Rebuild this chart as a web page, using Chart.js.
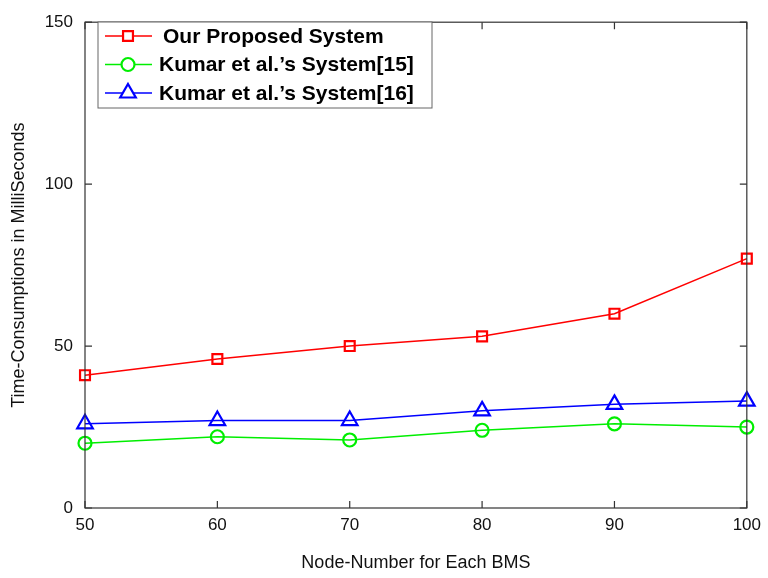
<!DOCTYPE html>
<html lang="en">
<head>
  <meta charset="UTF-8" />
  <title>Time Consumption per BMS</title>
  <script src="https://cdn.jsdelivr.net/npm/chart.js"></script>
  <style>
    html, body { margin: 0; padding: 0; background: #fff; }
    #wrap { width: 768px; height: 578px; }
  </style>
</head>
<body>
  <div id="wrap"><canvas id="timeChart" width="768" height="578"></canvas></div>

  <script>
    const nodeNumbers = [50, 60, 70, 80, 90, 100];
    const proposedTimes = [41, 46, 50, 53, 60, 77];
    const kumar15Times = [20, 22, 21, 24, 26, 25];
    const kumar16Times = [26, 27, 27, 30, 32, 33];
    const yTicks = [0, 50, 100, 150];
    const seriesNames = ['Our Proposed System', "Kumar et al.\u2019s System[15]", "Kumar et al.\u2019s System[16]"];

    const toPoints = vals => vals.map((v, i) => ({ x: nodeNumbers[i], y: v }));

    // box around plot + inward tick marks (matlab look)
    const frame = {
      id: 'frame',
      afterDraw(chart) {
        const { ctx, chartArea: a, scales } = chart;
        ctx.save();
        ctx.strokeStyle = '#333';
        ctx.lineWidth = 1.2;
        ctx.strokeRect(a.left, a.top, a.right - a.left, a.bottom - a.top);
        ctx.beginPath();
        nodeNumbers.forEach(n => {
          const x = scales.x.getPixelForValue(n);
          ctx.moveTo(x, a.bottom); ctx.lineTo(x, a.bottom - 7);
          ctx.moveTo(x, a.top); ctx.lineTo(x, a.top + 7);
        });
        yTicks.forEach(t => {
          const y = scales.y.getPixelForValue(t);
          ctx.moveTo(a.left, y); ctx.lineTo(a.left + 7, y);
          ctx.moveTo(a.right, y); ctx.lineTo(a.right - 7, y);
        });
        ctx.stroke();

        // legend box
        const lx = 98, ly = 22, lw = 334, lh = 86;
        ctx.fillStyle = '#fff';
        ctx.fillRect(lx, ly, lw, lh);
        ctx.strokeStyle = '#666';
        ctx.lineWidth = 1;
        ctx.strokeRect(lx, ly, lw, lh);
        chart.data.datasets.forEach((ds, i) => {
          const y = ly + 14 + i * 28.5;
          ctx.strokeStyle = ds.borderColor;
          ctx.lineWidth = 1.3;
          ctx.beginPath();
          ctx.moveTo(lx + 7, y); ctx.lineTo(lx + 54, y);
          ctx.stroke();
          ctx.lineWidth = 2.2;
          ctx.fillStyle = '#fff';
          Chart.helpers.drawPoint(ctx, {
            pointStyle: ds.pointStyle, radius: ds.pointRadius, borderWidth: 2.2
          }, lx + 30, y);
          ctx.fillStyle = '#000';
          ctx.font = 'bold 21px "Liberation Sans", Arial, sans-serif';
          ctx.textBaseline = 'middle';
          ctx.fillText(ds.label, lx + (i === 0 ? 65 : 61), y + 1);
        });
        ctx.restore();
      }
    };

    const mk = (label, vals, color, style, r) => ({
      label: label,
      data: toPoints(vals),
      borderColor: color,
      backgroundColor: 'rgba(0,0,0,0)',
      borderWidth: 1.5,
      pointStyle: style,
      pointRadius: r,
      pointBorderWidth: 2.2,
      pointBackgroundColor: 'rgba(0,0,0,0)',
      tension: 0
    });

    const ctx = document.getElementById('timeChart').getContext('2d');
    new Chart(ctx, {
      type: 'line',
      data: {
        datasets: [
          mk(seriesNames[0], proposedTimes, '#ff0000', 'rect', 7),
          mk(seriesNames[1], kumar15Times, '#00ee00', 'circle', 6.5),
          mk(seriesNames[2], kumar16Times, '#0000ff', 'triangle', 9)
        ]
      },
      options: {
        responsive: false,
        animation: false,
        clip: false,
        layout: { padding: { top: 18, right: 20, left: 0, bottom: 0 } },
        plugins: { legend: { display: false }, tooltip: { enabled: false } },
        scales: {
          x: {
            type: 'linear',
            min: 50, max: 100,
            afterBuildTicks: s => { s.ticks = nodeNumbers.map(v => ({ value: v })); },
            afterFit: s => { s.height = 70; },
            grid: { display: false, drawTicks: false },
            border: { display: false },
            ticks: { color: '#111', padding: 7, font: { size: 17, family: '"Liberation Sans", Arial, sans-serif' } },
            title: { display: true, text: 'Node-Number for Each BMS', color: '#111', padding: { top: 12 },
                     font: { size: 18, family: '"Liberation Sans", Arial, sans-serif' } }
          },
          y: {
            min: 0, max: 150,
            afterBuildTicks: s => { s.ticks = yTicks.map(v => ({ value: v })); },
            afterFit: s => { s.width = 85; },
            grid: { display: false, drawTicks: false },
            border: { display: false },
            ticks: { color: '#111', padding: 12, font: { size: 17, family: '"Liberation Sans", Arial, sans-serif' } },
            title: { display: true, text: 'Time-Consumptions in MilliSeconds', color: '#111', padding: { bottom: 0, top: 8 },
                     font: { size: 18, family: '"Liberation Sans", Arial, sans-serif' } }
          }
        }
      },
      plugins: [frame]
    });
  </script>
</body>
</html>
